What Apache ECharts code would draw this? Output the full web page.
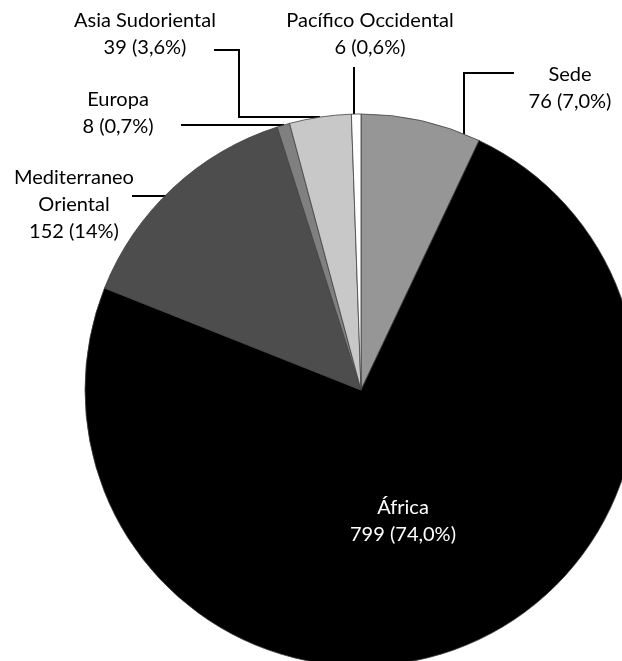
<!DOCTYPE html>
<html>
<head>
<meta charset="utf-8">
<script src="https://cdn.jsdelivr.net/npm/echarts@6/dist/echarts.min.js"></script>
<style>
html,body{margin:0;padding:0;background:#fff;}
#chart{width:622px;height:661px;}
</style>
</head>
<body>
<div id="chart"></div>
<script>
const categories = ['Sede', 'África', 'Mediterraneo Oriental', 'Europa', 'Asia Sudoriental', 'Pacífico Occidental'];
const labelNames = ['Sede', 'África', 'Mediterraneo\nOriental', 'Europa', 'Asia Sudoriental', 'Pacífico Occidental'];
const values = [76, 799, 152, 8, 39, 6];
const percentLabels = ['7,0%', '74,0%', '14%', '0,7%', '3,6%', '0,6%'];
const colors = ['#969696', '#000000', '#4d4d4d', '#808080', '#c8c8c8', '#ffffff'];

// label placement (layout only)
const labelPos = [
  { x: 570, y: 88, line: [[464, 134], [464, 73], [514, 73]] },
  { x: 403, y: 521, line: null },
  { x: 74, y: 205, line: [[166, 196], [132, 196]] },
  { x: 118, y: 113, line: [[284, 125], [181, 125]] },
  { x: 145, y: 34, line: [[320, 117], [239, 117], [239, 50], [214, 50]] },
  { x: 370, y: 34, line: [[354, 114], [354, 67]] }
];

const chart = echarts.init(document.getElementById('chart'), null, { renderer: 'canvas' });
chart.setOption({
  animation: false,
  backgroundColor: '#ffffff',
  series: [{
    type: 'pie',
    center: [361, 390],
    radius: 276,
    startAngle: 90,
    clockwise: true,
    avoidLabelOverlap: false,
    data: categories.map((c, i) => ({
      name: c,
      value: values[i],
      itemStyle: { color: colors[i] },
      label: i === 1 ? { color: '#ffffff' } : {},
      labelLine: { show: i !== 1 }
    })),
    itemStyle: { borderColor: '#404040', borderWidth: 0.8 },
    label: {
      show: true,
      position: 'outside',
      fontFamily: 'Lato',
      fontSize: 20,
      lineHeight: 27,
      color: '#000000',
      align: 'center',
      formatter: (p) => labelNames[p.dataIndex] + '\n' + values[p.dataIndex] + ' (' + percentLabels[p.dataIndex] + ')'
    },
    labelLine: { show: true, lineStyle: { color: '#000000', width: 2 } },
    labelLayout: (params) => {
      const L = labelPos[params.dataIndex];
      const o = { x: L.x, y: L.y, align: 'center', verticalAlign: 'middle' };
      if (L.line) o.labelLinePoints = L.line;
      return o;
    },
    emphasis: { disabled: true }
  }]
});
</script>
</body>
</html>
